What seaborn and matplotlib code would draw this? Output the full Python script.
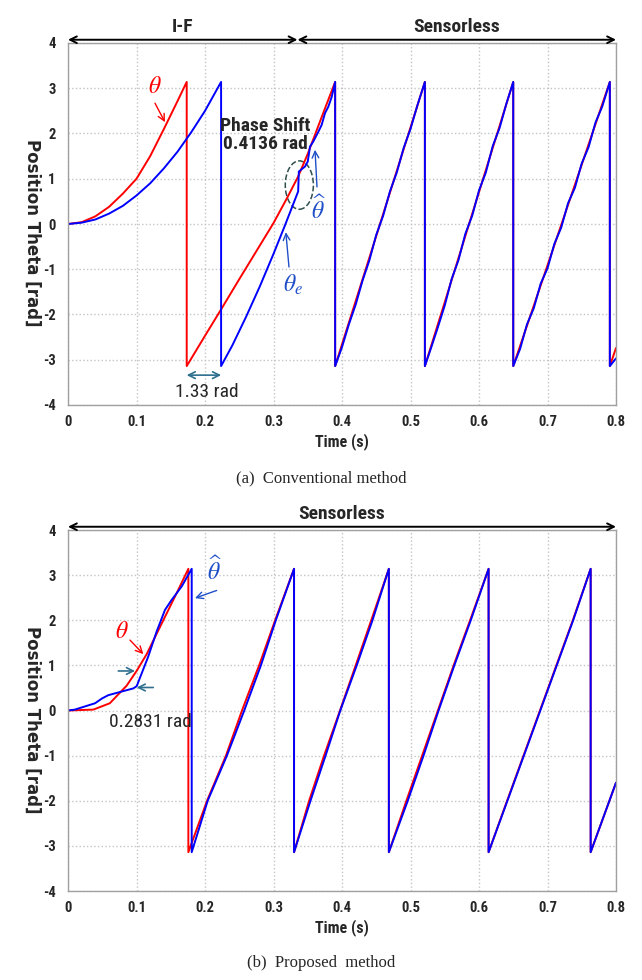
import numpy as np
import pandas as pd
import matplotlib
matplotlib.use("Agg")
import matplotlib.pyplot as plt
from matplotlib.patches import Ellipse
from matplotlib import font_manager as fm
import seaborn as sns

# ---------------- data ----------------
# (a) Conventional method
a_theta_t = [0, 0.02, 0.04, 0.06, 0.08, 0.10, 0.12, 0.14, 0.16, 0.1733, 0.1733,
             0.20, 0.225, 0.25, 0.275, 0.30, 0.32, 0.336, 0.35, 0.37, 0.39, 0.39,
             0.521, 0.521, 0.650, 0.650, 0.791, 0.791, 0.80]
a_theta_v = [0, 0.04, 0.17, 0.38, 0.67, 1.00, 1.50, 2.10, 2.72, 3.14, -3.14,
             -2.47, -1.85, -1.22, -0.60, 0.02, 0.58, 1.05, 1.55, 2.35, 3.14, -3.14,
             3.14, -3.14, 3.14, -3.14, 3.14, -3.14, -2.74]

a_est_t = [0, 0.02, 0.04, 0.06, 0.08, 0.10, 0.12, 0.14, 0.16, 0.18, 0.20, 0.2235, 0.2235,
           0.24, 0.26, 0.28, 0.30, 0.317, 0.336, 0.337, 0.346, 0.350, 0.3533, 0.358,
           0.3655, 0.3703, 0.3752, 0.38, 0.385, 0.39, 0.39,
           0.40, 0.41, 0.42, 0.43, 0.44, 0.45, 0.46, 0.47, 0.48, 0.49, 0.50, 0.51, 0.521, 0.521,
           0.53, 0.54, 0.55, 0.56, 0.57, 0.58, 0.59, 0.60, 0.61, 0.62, 0.63, 0.64, 0.650, 0.650,
           0.66, 0.67, 0.68, 0.69, 0.70, 0.71, 0.72, 0.73, 0.74, 0.75, 0.76, 0.77, 0.78, 0.791, 0.791,
           0.80]
a_est_v = [0, 0.03, 0.10, 0.23, 0.40, 0.63, 0.90, 1.23, 1.60, 2.03, 2.50, 3.14, -3.14,
           -2.68, -2.05, -1.38, -0.66, -0.02, 0.72, 1.16, 1.27, 1.38, 1.71, 1.82,
           2.04, 2.19, 2.45, 2.59, 2.81, 3.14, -3.14,
           -2.72, -2.22, -1.78, -1.25, -0.80, -0.24, 0.18, 0.72, 1.14, 1.68, 2.10, 2.62, 3.14, -3.14,
           -2.74, -2.28, -1.80, -1.22, -0.80, -0.22, 0.18, 0.74, 1.14, 1.72, 2.12, 2.66, 3.14, -3.14,
           -2.76, -2.22, -1.86, -1.32, -0.98, -0.44, -0.08, 0.46, 0.80, 1.34, 1.70, 2.24, 2.60, 3.14, -3.14,
           -2.97]

# (b) Proposed method
b_theta_t = [0, 0.037, 0.061, 0.0856, 0.1003, 0.1149, 0.1294, 0.144, 0.1586, 0.1757, 0.1757,
             0.203, 0.2306, 0.254, 0.279, 0.3024, 0.33, 0.33,
             0.352, 0.3738, 0.3971, 0.42, 0.4427, 0.4684, 0.4684,
             0.494, 0.517, 0.540, 0.563, 0.587, 0.614, 0.614,
             0.641, 0.665, 0.689, 0.713, 0.737, 0.763, 0.763, 0.80]
b_theta_v = [0, 0.02, 0.16, 0.55, 0.88, 1.25, 1.70, 2.15, 2.60, 3.14, -3.14,
             -2, -1, 0, 1, 2, 3.14, -3.14,
             -2, -1, 0, 1, 2, 3.14, -3.14,
             -2, -1, 0, 1, 2, 3.14, -3.14,
             -2, -1, 0, 1, 2, 3.14, -3.14, -1.60]

b_est_t = [0, 0.01, 0.0394, 0.05, 0.0589, 0.0808, 0.0954, 0.1003, 0.1075, 0.117, 0.1294,
           0.1416, 0.1513, 0.166, 0.1806, 0.1806,
           0.2039, 0.232, 0.2573, 0.2816, 0.3034, 0.33, 0.33,
           0.354, 0.376, 0.3975, 0.4215, 0.4445, 0.4684, 0.4684,
           0.496, 0.519, 0.541, 0.564, 0.588, 0.614, 0.614,
           0.6415, 0.6655, 0.6895, 0.7135, 0.7375, 0.763, 0.763, 0.80]
b_est_v = [0, 0.02, 0.16, 0.27, 0.34, 0.43, 0.49, 0.54, 0.82, 1.19, 1.75,
           2.23, 2.45, 2.75, 3.14, -3.14,
           -2, -1, 0, 1, 2, 3.14, -3.14,
           -2, -1, 0, 1, 2, 3.14, -3.14,
           -2, -1, 0, 1, 2, 3.14, -3.14,
           -2, -1, 0, 1, 2, 3.14, -3.14, -1.60]

x_ticks = [0, 0.1, 0.2, 0.3, 0.4, 0.5, 0.6, 0.7, 0.8]
x_tick_labels = ["0", "0.1", "0.2", "0.3", "0.4", "0.5", "0.6", "0.7", "0.8"]
y_ticks = [-4, -3, -2, -1, 0, 1, 2, 3, 4]
y_tick_labels = ["-4", "-3", "-2", "-1", "0", "1", "2", "3", "4"]

# ---------------- style ----------------
sns.set_theme(style="white")


def pick_narrow():
    names = {f.name for f in fm.fontManager.ttflist}
    for n in ["Liberation Sans Narrow", "Roboto Condensed", "DejaVu Sans Condensed",
              "Open Sans Condensed", "Noto Sans Condensed", "Arial Narrow"]:
        if n in names:
            return n, "normal", 1.0
    for f in fm.fontManager.ttflist:
        st = f.stretch
        if (isinstance(st, str) and "condensed" in st) or (isinstance(st, int) and st < 500):
            return f.name, "condensed", 1.0
    return "Liberation Sans", "normal", 0.85


NARROW_NAME, NARROW_STRETCH, NSCALE = pick_narrow()
NARROW = [NARROW_NAME, "DejaVu Sans"]
plt.rcParams["font.family"] = NARROW
plt.rcParams["font.stretch"] = NARROW_STRETCH
plt.rcParams["mathtext.fontset"] = "stix"

RED = "#ff0000"
BLUE = "#0000ff"
ANN_BLUE = "#1f4fc8"
TEAL = "#2e6f8e"

W, H = 642, 980
fig = plt.figure(figsize=(W / 100, H / 100), dpi=100)


def px_axes(left, right, top, bottom):
    return fig.add_axes([left / W, 1 - bottom / H, (right - left) / W, (bottom - top) / H])


ax1 = px_axes(68, 616, 43, 405)
ax2 = px_axes(68, 616, 530, 891)

TK = dict(fontweight="bold", fontsize=10.5 * NSCALE, family=NARROW, stretch=NARROW_STRETCH)
LBL = dict(family=NARROW, stretch=NARROW_STRETCH)


def draw(ax, t1, v1, t2, v2, label_y):
    d1 = pd.DataFrame({"t": t1, "v": v1})
    d2 = pd.DataFrame({"t": t2, "v": v2})
    sns.lineplot(data=d1, x="t", y="v", ax=ax, color=RED, lw=1.4, sort=False, estimator=None)
    sns.lineplot(data=d2, x="t", y="v", ax=ax, color=BLUE, lw=1.4, sort=False, estimator=None)
    ax.set_xlim(0, 0.8)
    ax.set_ylim(-4, 4)
    ax.set_xticks(x_ticks)
    ax.set_xticklabels(x_tick_labels, **TK)
    ax.set_yticks(y_ticks)
    ax.set_yticklabels(y_tick_labels, **TK)
    ax.tick_params(axis="y", length=0, pad=9)
    ax.tick_params(axis="x", length=0, pad=7)
    ax.grid(True, color="#c4c4c4", linestyle=":", linewidth=1.0)
    for s in ax.spines.values():
        s.set_color("#a0a0a0")
        s.set_linewidth(1.0)
    ax.set_xlabel("Time (s)", labelpad=3, fontweight="bold", fontsize=11.5 * NSCALE, **LBL)
    ax.set_ylabel("")
    fig.text(32 / W, 1 - label_y / H, "Position Theta [rad]", rotation=-90,
             ha="center", va="center", fontweight="bold", fontsize=12,
             family=["DejaVu Sans"], stretch="normal")


draw(ax1, a_theta_t, a_theta_v, a_est_t, a_est_v, 233)
draw(ax2, b_theta_t, b_theta_v, b_est_t, b_est_v, 720)


def top_arrow(ax, x0, x1, label, y=1.009):
    ax.annotate("", xy=(x0, y), xytext=(x1, y), xycoords=("data", "axes fraction"),
                textcoords=("data", "axes fraction"),
                arrowprops=dict(arrowstyle="<->", lw=1.4, color="black",
                                shrinkA=0, shrinkB=0), annotation_clip=False)
    ax.text((x0 + x1) / 2, y + 0.010, label, transform=ax.get_xaxis_transform(),
            ha="center", va="bottom", fontsize=14 * NSCALE, fontweight="bold", **LBL)


# ---- panel (a) annotations ----
top_arrow(ax1, 0.0, 0.335, "I-F")
top_arrow(ax1, 0.335, 0.8, "Sensorless")

ax1.text(0.127, 3.03, r"$\theta$", color=RED, fontsize=17, ha="center", va="center")
ax1.annotate("", xy=(0.1416, 2.25), xytext=(0.127, 2.67),
             arrowprops=dict(arrowstyle="->", color=RED, lw=1.0, shrinkA=0, shrinkB=0))

ax1.text(0.2876, 1.97, "Phase Shift\n0.4136 rad", ha="center", va="center",
         fontsize=14 * NSCALE, fontweight="bold", linespacing=1.0, **LBL)

ax1.add_patch(Ellipse((0.3377, 0.86), 0.041, 1.07, fill=False, ls="--",
                      ec="#2f4f4f", lw=1.1))

ax1.text(0.3655, 0.32, r"$\widehat{\theta}$", color=ANN_BLUE, fontsize=17, ha="center", va="center")
ax1.annotate("", xy=(0.3606, 1.64), xytext=(0.3635, 0.82),
             arrowprops=dict(arrowstyle="->", color=ANN_BLUE, lw=1.0, shrinkA=0, shrinkB=0))

ax1.text(0.329, -1.35, r"$\theta_e$", color=ANN_BLUE, fontsize=17, ha="center", va="center")
ax1.annotate("", xy=(0.318, -0.18), xytext=(0.3226, -0.95),
             arrowprops=dict(arrowstyle="->", color=ANN_BLUE, lw=1.0, shrinkA=0, shrinkB=0))

ax1.annotate("", xy=(0.1733, -3.34), xytext=(0.2235, -3.34),
             arrowprops=dict(arrowstyle="<->", color=TEAL, lw=1.2, shrinkA=0, shrinkB=0))
ax1.text(0.2025, -3.72, "1.33 rad", ha="center", va="center", fontsize=14 * NSCALE, **LBL)

# ---- panel (b) annotations ----
top_arrow(ax2, 0.0, 0.8, "Sensorless")

ax2.text(0.0784, 1.75, r"$\theta$", color=RED, fontsize=17, ha="center", va="center")
ax2.annotate("", xy=(0.11, 1.25), xytext=(0.0905, 1.56),
             arrowprops=dict(arrowstyle="->", color=RED, lw=1.0, shrinkA=0, shrinkB=0))

ax2.text(0.2146, 3.1, r"$\widehat{\theta}$", color=ANN_BLUE, fontsize=17, ha="center", va="center")
ax2.annotate("", xy=(0.1854, 2.49), xytext=(0.217, 2.66),
             arrowprops=dict(arrowstyle="->", color=ANN_BLUE, lw=1.0, shrinkA=0, shrinkB=0))

ax2.annotate("", xy=(0.0978, 0.876), xytext=(0.0734, 0.876),
             arrowprops=dict(arrowstyle="->", color=TEAL, lw=1.2, shrinkA=0, shrinkB=0))
ax2.annotate("", xy=(0.1003, 0.51), xytext=(0.1245, 0.51),
             arrowprops=dict(arrowstyle="->", color=TEAL, lw=1.2, shrinkA=0, shrinkB=0))
ax2.text(0.1197, -0.25, "0.2831 rad", ha="center", va="center", fontsize=14 * NSCALE, **LBL)

# ---- captions ----
fig.text(0.5, 1 - 478 / H, "(a)  Conventional method", ha="center", va="center",
         fontsize=12, family=["Liberation Serif", "DejaVu Serif"], stretch="normal")
fig.text(0.5, 1 - 963 / H, "(b)  Proposed  method", ha="center", va="center",
         fontsize=12, family=["Liberation Serif", "DejaVu Serif"], stretch="normal")

fig.savefig("out.png", dpi=100)
